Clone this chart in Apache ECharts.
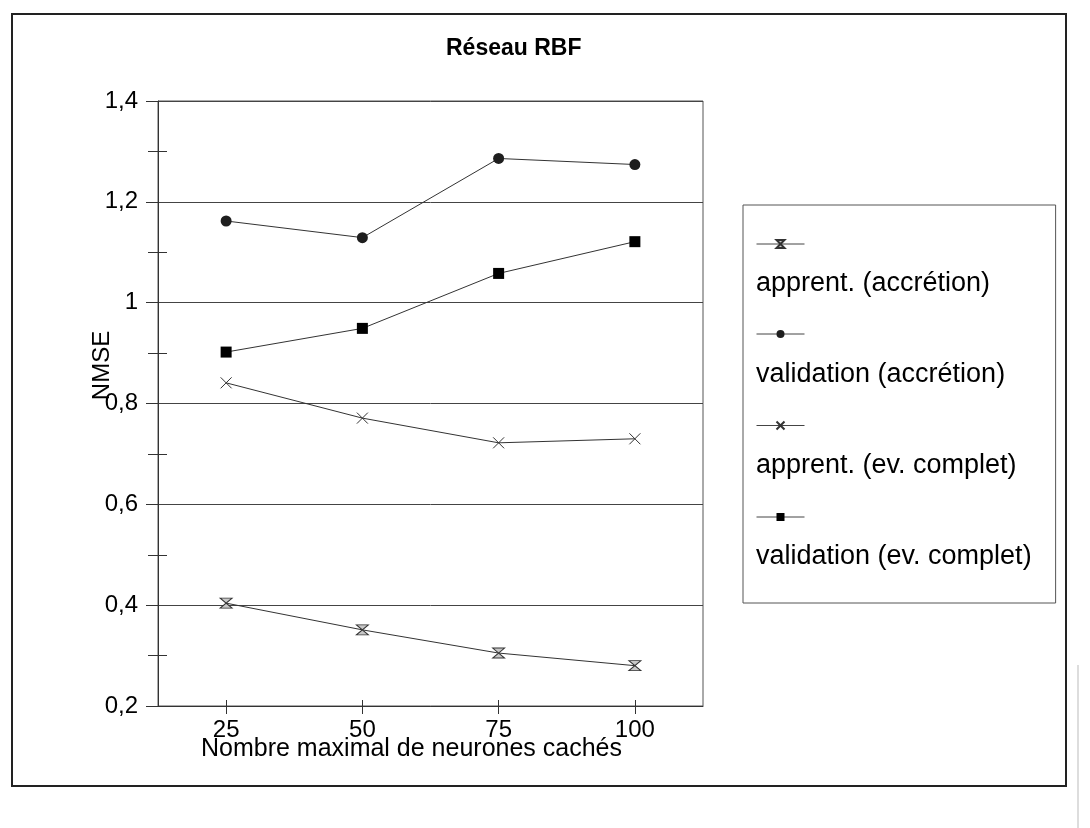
<!DOCTYPE html>
<html>
<head>
<meta charset="utf-8">
<script src="https://cdn.jsdelivr.net/npm/echarts@6/dist/echarts.min.js"></script>
<style>
  html, body { margin: 0; padding: 0; background: #fff; }
  #chart { width: 1090px; height: 828px; }
</style>
</head>
<body>
<div id="chart"></div>
<script>
// Hidden-neuron budget on the x axis, NMSE on the y axis
const categories = ['25', '50', '75', '100'];
const apprentAccretion = [0.404, 0.351, 0.305, 0.280];
const validationAccretion = [1.162, 1.129, 1.286, 1.274];
const apprentComplet = [0.841, 0.771, 0.722, 0.730];
const validationComplet = [0.902, 0.949, 1.058, 1.121];
const yTickLabels = ['0,2', '0,4', '0,6', '0,8', '1', '1,2', '1,4'];
const seriesNames = [
  'apprent. (accrétion)',
  'validation (accrétion)',
  'apprent. (ev. complet)',
  'validation (ev. complet)'
];

const FONT = '"Liberation Sans", Arial, sans-serif';
const INK = '#333';

// Marker shapes
const HOURGLASS = 'path://M0,0 L12,0 L0,10 L12,10 Z';
const CROSS = 'path://M0,0 L10,10 M10,0 L0,10';

function lineSeries(name, data, symbol, size, itemStyle) {
  return {
    name: name,
    type: 'line',
    xAxisIndex: 0,
    yAxisIndex: 0,
    data: data,
    symbol: symbol,
    symbolSize: size,
    showSymbol: true,
    lineStyle: { color: INK, width: 1 },
    itemStyle: itemStyle,
    emphasis: { disabled: true },
    z: 3
  };
}

const yLabel = v => yTickLabels[Math.round((v - 0.2) / 0.2)] || '';

const chart = echarts.init(document.getElementById('chart'), null, { renderer: 'canvas' });

chart.setOption({
  backgroundColor: '#fff',
  animation: false,
  textStyle: { fontFamily: FONT, color: '#000' },
  title: {
    text: 'Réseau RBF',
    left: 441,
    top: 32,
    textStyle: { fontFamily: FONT, fontSize: 23, fontWeight: 'bold', color: '#000' }
  },
  grid: {
    left: 158, right: 387, top: 101, bottom: 122,
    show: true, borderColor: '#555', borderWidth: 1, backgroundColor: 'transparent'
  },
  xAxis: [
    {
      type: 'category',
      position: 'bottom',
      data: categories,
      boundaryGap: true,
      name: 'Nombre maximal de neurones cachés',
      nameLocation: 'middle',
      nameGap: 31,
      nameMoveOverlap: false,
      nameTextStyle: { fontFamily: FONT, fontSize: 25, color: '#000', padding: [0, 38, 0, 0] },
      axisLine: { show: true, onZero: false, lineStyle: { color: INK, width: 1 } },
      axisTick: { show: true, alignWithLabel: true, length: 8, lineStyle: { color: INK } },
      axisLabel: { fontFamily: FONT, fontSize: 24, color: '#000', margin: 12 },
      splitLine: { show: false }
    },
    {
      // upper half of the crossing category ticks (axis shifted into the plot)
      type: 'category',
      position: 'bottom',
      offset: -6,
      data: categories,
      boundaryGap: true,
      axisLine: { show: false, onZero: false },
      axisTick: { show: true, alignWithLabel: true, length: 6, lineStyle: { color: INK } },
      axisLabel: { show: false },
      splitLine: { show: false }
    }
  ],
  yAxis: [
    {
      type: 'value',
      position: 'left',
      min: 0.2, max: 1.4, interval: 0.2,
      name: 'NMSE',
      nameLocation: 'middle',
      nameGap: 44,
      nameMoveOverlap: false,
      nameTextStyle: { fontFamily: FONT, fontSize: 24, color: '#000', padding: [0, 0, 0, 76] },
      axisLine: { show: true, onZero: false, lineStyle: { color: INK, width: 1 } },
      axisTick: { show: true, length: 12, lineStyle: { color: INK } },
      minorTick: { show: true, splitNumber: 2, length: 10, lineStyle: { color: INK, width: 1 } },
      axisLabel: { fontFamily: FONT, fontSize: 24, color: '#000', margin: 20, formatter: yLabel },
      splitLine: { show: true, lineStyle: { color: '#444', width: 1 } }
    },
    {
      // right half of the crossing minor ticks (axis shifted into the plot)
      type: 'value',
      position: 'left',
      offset: -9,
      min: 0.2, max: 1.4, interval: 0.2,
      axisLine: { show: false, onZero: false },
      axisTick: { show: false },
      minorTick: { show: true, splitNumber: 2, length: 9, lineStyle: { color: INK, width: 1 } },
      axisLabel: { show: false },
      splitLine: { show: false }
    }
  ],
  legend: [
    {
      // line + marker samples
      data: seriesNames,
      orient: 'vertical',
      left: 756,
      top: 239,
      itemWidth: 48,
      itemHeight: 10,
      itemGap: 81,
      padding: 0,
      formatter: () => '',
      lineStyle: { width: 1, color: '#444' },
      textStyle: { fontSize: 8, lineHeight: 10 },
      selectedMode: false
    },
    {
      // labels, each under its sample, inside the framed box
      data: seriesNames,
      orient: 'vertical',
      left: 743,
      top: 205,
      icon: 'none',
      itemWidth: 0,
      itemHeight: 0,
      itemGap: 61,
      padding: [64, 24, 31, 8],
      borderColor: '#555',
      borderWidth: 1,
      textStyle: { fontFamily: FONT, fontSize: 27, lineHeight: 30, color: '#000' },
      selectedMode: false
    }
  ],
  series: [
    lineSeries(seriesNames[0], apprentAccretion, HOURGLASS, [12, 10],
      { color: '#c8c8c8', borderColor: INK, borderWidth: 1 }),
    lineSeries(seriesNames[1], validationAccretion, 'circle', 11,
      { color: '#1e1e1e', borderColor: '#1e1e1e', borderWidth: 0 }),
    lineSeries(seriesNames[2], apprentComplet, CROSS, 11,
      { color: 'none', borderColor: INK, borderWidth: 1 }),
    lineSeries(seriesNames[3], validationComplet, 'rect', 11,
      { color: '#000', borderColor: '#000', borderWidth: 0 }),
    {
      // empty series that keeps the secondary tick axes in use
      name: 'ticks',
      type: 'line',
      xAxisIndex: 1,
      yAxisIndex: 1,
      data: [null, null, null, null],
      symbol: 'none',
      lineStyle: { opacity: 0 },
      silent: true
    }
  ],
  graphic: [
    {
      // outer frame of the figure
      type: 'rect',
      silent: true,
      shape: { x: 12, y: 14, width: 1054, height: 772 },
      style: { fill: 'none', stroke: '#222', lineWidth: 2 }
    },
    {
      type: 'line',
      silent: true,
      shape: { x1: 1078, y1: 665, x2: 1078, y2: 828 },
      style: { stroke: '#bbb', lineWidth: 1 }
    }
  ]
});
</script>
</body>
</html>
